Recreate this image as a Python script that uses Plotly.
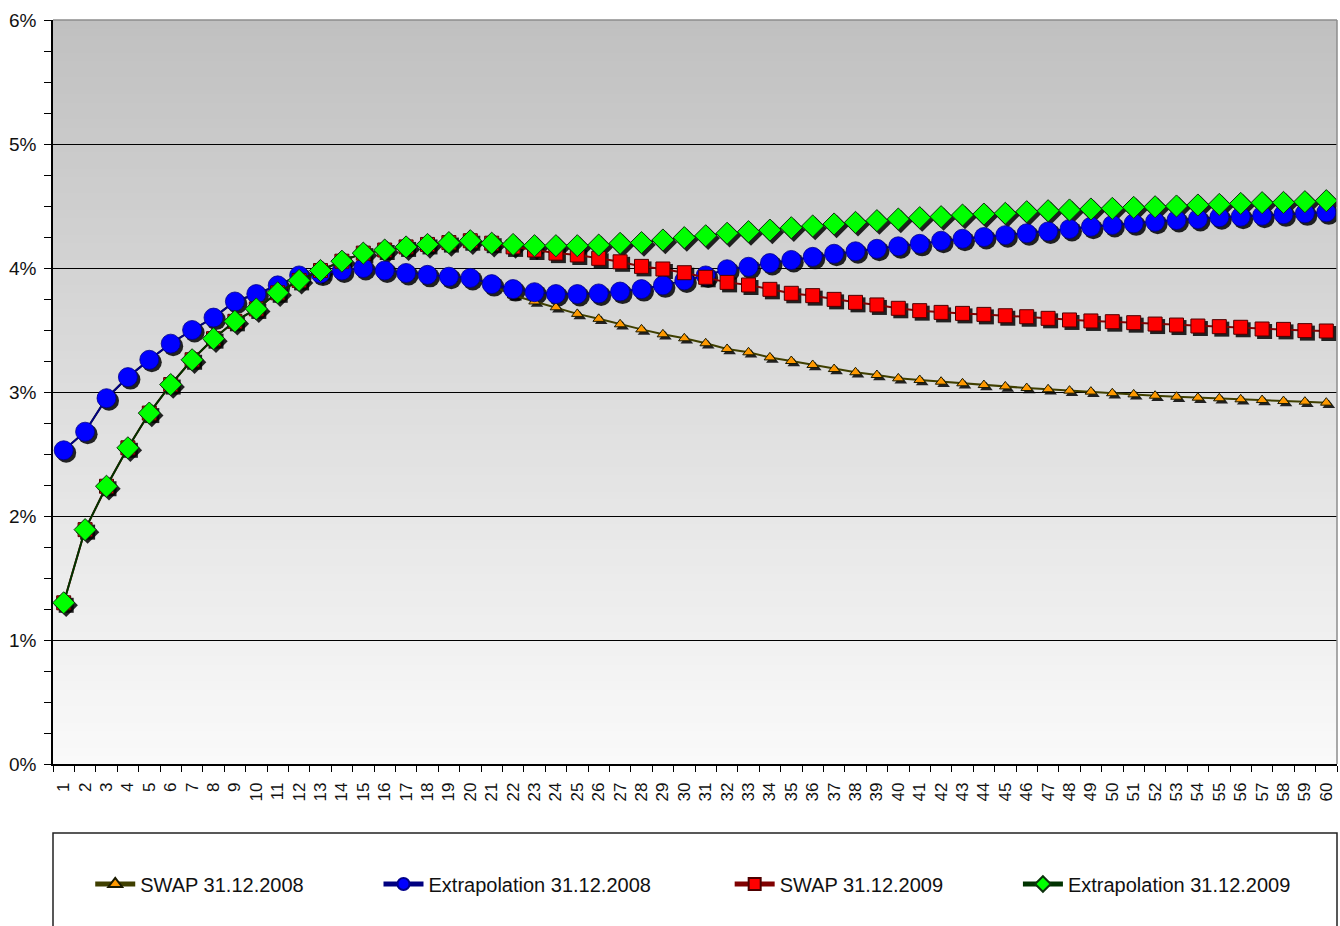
import plotly.graph_objects as go

# Maturities (years) on the category axis
years = list(range(1, 61))

# Rates in percent
swap_2008 = [
    2.53, 2.68, 2.95, 3.12, 3.26, 3.39, 3.50, 3.60, 3.73, 3.79,
    3.86, 3.94, 3.955, 3.98, 4.00, 3.98, 3.96, 3.945, 3.93, 3.92,
    3.86, 3.78, 3.73, 3.683, 3.63, 3.59, 3.546, 3.505, 3.465, 3.433,
    3.393, 3.347, 3.32, 3.279, 3.25, 3.218, 3.185, 3.159, 3.137, 3.11,
    3.097, 3.083, 3.07, 3.056, 3.045, 3.032, 3.022, 3.011, 3.003, 2.99,
    2.981, 2.97, 2.962, 2.954, 2.949, 2.941, 2.935, 2.927, 2.922, 2.914,
]
extrap_2008 = [
    2.53, 2.68, 2.95, 3.12, 3.26, 3.39, 3.50, 3.60, 3.73, 3.79,
    3.86, 3.94, 3.955, 3.98, 4.00, 3.98, 3.96, 3.945, 3.93, 3.92,
    3.87, 3.83, 3.805, 3.79, 3.79, 3.795, 3.81, 3.83, 3.86, 3.90,
    3.94, 3.99, 4.01, 4.04, 4.065, 4.09, 4.115, 4.135, 4.155, 4.175,
    4.195, 4.22, 4.236, 4.25, 4.265, 4.28, 4.295, 4.315, 4.333, 4.347,
    4.36, 4.373, 4.387, 4.395, 4.409, 4.414, 4.422, 4.433, 4.441, 4.449,
]
swap_2009 = [
    1.30, 1.89, 2.24, 2.55, 2.83, 3.06, 3.26, 3.43, 3.57, 3.67,
    3.80, 3.90, 3.98, 4.055, 4.12, 4.145, 4.17, 4.19, 4.205, 4.22,
    4.20, 4.17, 4.145, 4.12, 4.105, 4.078, 4.05, 4.013, 3.992, 3.962,
    3.925, 3.884, 3.863, 3.828, 3.796, 3.777, 3.747, 3.723, 3.702, 3.675,
    3.656, 3.642, 3.634, 3.626, 3.615, 3.607, 3.594, 3.581, 3.573, 3.567,
    3.559, 3.548, 3.54, 3.532, 3.527, 3.522, 3.508, 3.505, 3.495, 3.492,
]
extrap_2009 = [
    1.30, 1.89, 2.24, 2.55, 2.83, 3.06, 3.26, 3.43, 3.57, 3.67,
    3.80, 3.90, 3.98, 4.055, 4.12, 4.145, 4.17, 4.19, 4.205, 4.22,
    4.20, 4.19, 4.18, 4.18, 4.18, 4.185, 4.199, 4.205, 4.226, 4.245,
    4.26, 4.28, 4.293, 4.306, 4.325, 4.339, 4.355, 4.368, 4.382, 4.395,
    4.406, 4.414, 4.427, 4.435, 4.441, 4.454, 4.462, 4.468, 4.476, 4.481,
    4.489, 4.494, 4.50, 4.508, 4.513, 4.521, 4.527, 4.529, 4.535, 4.543,
]

series_names = ["SWAP 31.12.2008", "Extrapolation 31.12.2008",
                "SWAP 31.12.2009", "Extrapolation 31.12.2009"]
series_values = [swap_2008, extrap_2008, swap_2009, extrap_2009]

styles = [
    dict(line="#3f3f00", marker=dict(symbol="triangle-up", size=10, color="#FF9900",
                                     line=dict(color="#1a1a00", width=1))),
    dict(line="#000080", marker=dict(symbol="circle", size=19, color="#0000FF",
                                     line=dict(color="#00008b", width=0.8))),
    dict(line="#800000", marker=dict(symbol="square", size=14, color="#FF0000",
                                     line=dict(color="#4d0000", width=1))),
    dict(line="#003300", marker=dict(symbol="diamond", size=17, color="#00FF00",
                                     line=dict(color="#0d330d", width=1))),
]
legend_x = [0.029, 0.2535, 0.527, 0.7515]

FONT = "Liberation Sans, Arial, sans-serif"
W, H = 1340, 926
M_L, M_R, M_T, M_B = 53, 3, 20, 162
PLOT_W, PLOT_H = W - M_L - M_R, H - M_T - M_B
X_RANGE = [0.5, 60.5]
Y_RANGE = [0, 6]

# drop-shadow offset in pixels, converted to axis units
SH = 2.5
dx = SH * (X_RANGE[1] - X_RANGE[0]) / PLOT_W
dy = SH * (Y_RANGE[1] - Y_RANGE[0]) / PLOT_H

fig = go.Figure()

# shadows on the hidden base axes
for vals, st in zip(series_values, styles):
    m = st["marker"]
    fig.add_trace(go.Scatter(
        x=years, y=vals, mode="markers", xaxis="x", yaxis="y",
        marker=dict(symbol=m["symbol"], size=m["size"] + 1, color="rgba(0,0,0,0.85)",
                    line=dict(width=0)),
        showlegend=False, hoverinfo="skip"))

# the series themselves on the visible overlay axes
for i, (name, vals, st) in enumerate(zip(series_names, series_values, styles)):
    fig.add_trace(go.Scatter(
        x=years, y=vals, name=name, mode="lines+markers",
        xaxis="x2", yaxis="y2",
        line=dict(color=st["line"], width=2),
        marker=st["marker"],
        legend="legend" if i == 0 else f"legend{i + 1}"))

# vertical gray gradient behind the plot area (bands overlap to avoid seams)
shapes = []
N = 90
top_c, bot_c = 192, 250
for k in range(N):
    t = (k + 0.5) / N  # 0 bottom .. 1 top
    c = round(bot_c + (top_c - bot_c) * t)
    shapes.append(dict(type="rect", xref="paper", yref="paper",
                       x0=0, x1=1, y0=k / N, y1=min(1.0, (k + 1.6) / N),
                       fillcolor=f"rgb({c},{c},{c})", line=dict(width=0),
                       layer="below"))
# top and right frame of the plot area
shapes.append(dict(type="line", xref="paper", yref="paper", x0=0, x1=1, y0=1, y1=1,
                   line=dict(color="#8c8c8c", width=1.5), layer="above"))
shapes.append(dict(type="line", xref="paper", yref="paper", x0=1, x1=1, y0=0, y1=1,
                   line=dict(color="#8c8c8c", width=1.5), layer="above"))
# legend frame
lg_top = -(833 - (M_T + PLOT_H)) / PLOT_H
lg_bot = -(940 - (M_T + PLOT_H)) / PLOT_H
shapes.append(dict(type="rect", xref="paper", yref="paper", x0=0, x1=1.0,
                   y0=lg_bot, y1=lg_top, fillcolor="white",
                   line=dict(color="#222222", width=1.5), layer="above"))

legend_y = -(884 - (M_T + PLOT_H)) / PLOT_H
legend_common = dict(orientation="h", xanchor="left", yanchor="middle", y=legend_y,
                     bgcolor="rgba(0,0,0,0)", borderwidth=0, itemsizing="constant",
                     itemwidth=40, font=dict(family=FONT, size=20, color="#111111"))

layout = dict(
    width=W, height=H,
    margin=dict(l=M_L, r=M_R, t=M_T, b=M_B, pad=0),
    paper_bgcolor="white", plot_bgcolor="rgba(0,0,0,0)",
    font=dict(family=FONT, color="#111111"),
    shapes=shapes,
    xaxis=dict(range=[X_RANGE[0] - dx, X_RANGE[1] - dx], visible=False, fixedrange=True),
    yaxis=dict(range=[Y_RANGE[0] + dy, Y_RANGE[1] + dy], visible=False, fixedrange=True),
    xaxis2=dict(
        overlaying="x", anchor="y2", side="bottom", range=X_RANGE,
        tickmode="array", tickvals=years, ticktext=[str(v) for v in years],
        tickangle=-90, ticks="outside", ticklen=7, tickcolor="rgba(0,0,0,0)",
        ticklabelstandoff=3,
        tickfont=dict(family=FONT, size=17, color="#111111"),
        showgrid=False, zeroline=False,
        showline=True, linecolor="black", linewidth=1.5,
        minor=dict(tickmode="array", tickvals=[v - 0.5 for v in years] + [60.5],
                   ticks="outside", ticklen=6, tickcolor="black", tickwidth=1.2,
                   showgrid=False),
    ),
    yaxis2=dict(
        overlaying="y", anchor="x2", side="left", range=Y_RANGE,
        tickmode="linear", tick0=0, dtick=1, ticksuffix="%",
        ticks="outside", ticklen=7, tickcolor="black", tickwidth=1.2,
        ticklabelstandoff=4,
        tickfont=dict(family=FONT, size=19, color="#111111"),
        showgrid=True, gridcolor="black", gridwidth=1, zeroline=False,
        showline=True, linecolor="black", linewidth=1.5,
        minor=dict(tick0=0, dtick=0.25, ticks="outside", ticklen=7,
                   tickcolor="black", tickwidth=1.2, showgrid=False),
    ),
    legend=dict(x=legend_x[0], **legend_common),
    legend2=dict(x=legend_x[1], **legend_common),
    legend3=dict(x=legend_x[2], **legend_common),
    legend4=dict(x=legend_x[3], **legend_common),
)
fig.update_layout(**layout)

fig.write_html("out.html")
